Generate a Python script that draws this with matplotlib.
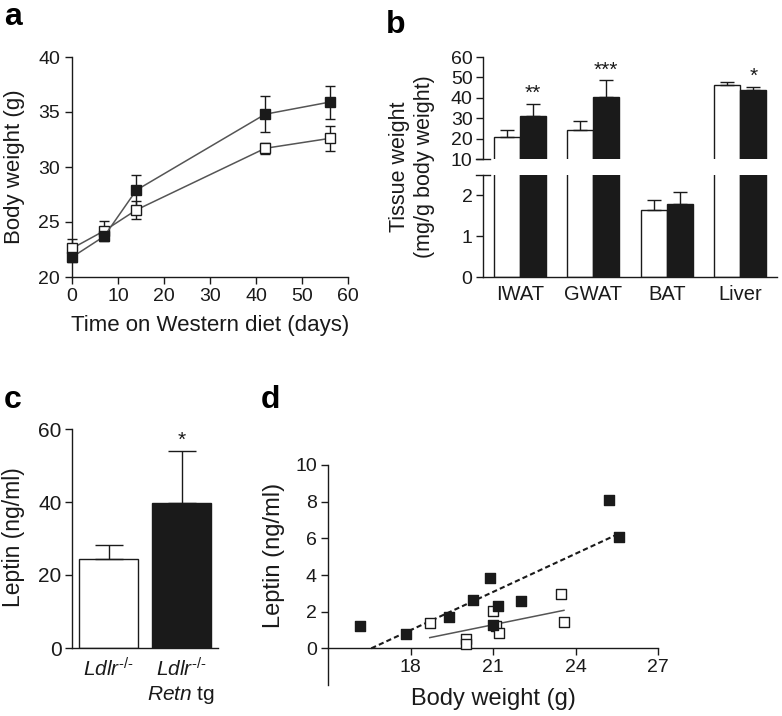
import numpy as np
import matplotlib
matplotlib.use("Agg")
import matplotlib.pyplot as plt

plt.rcParams['font.family'] = ['Liberation Sans', 'DejaVu Sans']
plt.rcParams['mathtext.fontset'] = 'custom'
plt.rcParams['mathtext.rm'] = 'Liberation Sans'
plt.rcParams['mathtext.it'] = 'Liberation Sans:italic'
plt.rcParams['axes.linewidth'] = 1.0
plt.rcParams['xtick.major.width'] = 1.0
plt.rcParams['ytick.major.width'] = 1.0

INK = '#1a1a1a'

# panel a: body weight over time
days = [0, 7, 14, 42, 56]
bw_ldlr = [22.6, 24.2, 26.1, 31.7, 32.6]
bw_ldlr_err = [0.9, 0.9, 0.85, 0.5, 1.15]
bw_retn = [21.8, 23.7, 27.9, 34.8, 35.9]
bw_retn_err = [0.4, 0.3, 1.4, 1.65, 1.5]

# panel b: tissue weights
tissues = ['IWAT', 'GWAT', 'BAT', 'Liver']
tw_ldlr = [20.6, 24.1, 1.63, 46.1]
tw_ldlr_err = [3.5, 4.7, 0.25, 1.8]
tw_retn = [31.2, 40.2, 1.80, 43.8]
tw_retn_err = [5.8, 8.4, 0.28, 1.7]
tw_stars = ['**', '***', '', '*']
tw_star_y = [39.3, 51.0, 0, 47.8]

# panel c: plasma leptin
groups_c = [r'$Ldlr^{\mathit{\text{-/-}}}$', r'$Ldlr^{\mathit{\text{-/-}}}$' + '\n' + r'$Retn$ tg']
leptin = [24.4, 39.7]
leptin_err = [3.9, 14.4]

# panel d: leptin vs body weight
bw_d_retn = [16.18, 17.82, 19.41, 20.29, 20.88, 21.19, 21.0, 22.0, 25.2, 25.59]
lep_d_retn = [1.22, 0.76, 1.69, 2.62, 3.85, 2.31, 1.27, 2.56, 8.07, 6.09]
bw_d_ldlr = [18.70, 21.0, 21.1, 21.2, 20.01, 20.01, 23.49, 23.58]
lep_d_ldlr = [1.36, 2.05, 1.22, 0.85, 0.49, 0.24, 2.96, 1.45]

W, H = 782, 716
fig = plt.figure(figsize=(W / 100, H / 100), dpi=100)


def px_axes(left, top, right, bottom):
    return fig.add_axes([left / W, 1 - bottom / H, (right - left) / W, (bottom - top) / H])


def clean(ax):
    ax.spines['top'].set_visible(False)
    ax.spines['right'].set_visible(False)
    for s in ax.spines.values():
        s.set_color(INK)
    ax.tick_params(colors=INK, labelcolor=INK, direction='out')


# ---- a ----
ax = px_axes(72, 57, 348, 277)
clean(ax)
for vals, errs, face in [(bw_ldlr, bw_ldlr_err, 'white'), (bw_retn, bw_retn_err, INK)]:
    eb = ax.errorbar(days, vals, yerr=errs, color='#555555', lw=1.1, marker='s', ms=7.5,
                     mfc=face, mec=INK, mew=1.0, ecolor=INK, elinewidth=1.0, capsize=3.8,
                     capthick=1.0, zorder=3)
    line, caps, bars = eb.lines
    for art in [line, *caps, *bars]:
        art.set_clip_on(False)
ax.set_xlim(0, 60)
ax.set_ylim(20, 40)
ax.set_xticks(range(0, 61, 10))
ax.set_yticks(range(20, 41, 5))
ax.tick_params(axis='both', labelsize=14, length=5)
ax.tick_params(axis='x', pad=3)
ax.set_ylabel('Body weight (g)', fontsize=16, color=INK)
ax.yaxis.set_label_coords(-0.17, 0.5)
ax.set_xlabel('Time on Western diet (days)', fontsize=16, color=INK)
ax.xaxis.set_label_coords(0.5, -0.173)

# ---- b ----
xb = np.arange(len(tissues))
bw = 0.355
ax_top = px_axes(483, 57, 777, 159)
ax_bot = px_axes(483, 175, 777, 277)
for a in (ax_top, ax_bot):
    clean(a)
    a.bar(xb - bw / 2, tw_ldlr, width=bw, color='white', edgecolor=INK, lw=1.0)
    a.bar(xb + bw / 2, tw_retn, width=bw, color=INK, edgecolor=INK, lw=1.0)
    a.errorbar(xb - bw / 2, tw_ldlr, yerr=[np.zeros(4), tw_ldlr_err], fmt='none',
               ecolor=INK, elinewidth=1.0, capsize=4.8, capthick=1.0)
    a.errorbar(xb + bw / 2, tw_retn, yerr=[np.zeros(4), tw_retn_err], fmt='none',
               ecolor=INK, elinewidth=1.0, capsize=4.8, capthick=1.0)
    a.set_xlim(-0.5, 3.5)
    a.tick_params(axis='y', labelsize=14, length=5, pad=2.5)
ax_top.set_ylim(10, 60)
ax_top.set_yticks(range(10, 61, 10))
ax_top.spines['bottom'].set_visible(False)
ax_top.set_xticks([])
ax_bot.set_ylim(0, 2.5)
ax_bot.set_yticks([0, 1, 2])
ax_bot.set_xticks(xb)
ax_bot.set_xticklabels(tissues, fontsize=14.5)
ax_bot.tick_params(axis='x', length=0, pad=6)
for i, st in enumerate(tw_stars):
    if st:
        ax_top.text(xb[i] + bw / 2, tw_star_y[i], st, ha='center', va='baseline', fontsize=15, color=INK)
# axis break marks
ax_top.plot([-0.025, 0.025], [0, 0], transform=ax_top.transAxes, color=INK, lw=1.0, clip_on=False)
ax_bot.plot([-0.025, 0.025], [1, 1], transform=ax_bot.transAxes, color=INK, lw=1.0, clip_on=False)
fig.text(412 / W, 1 - 167 / H, 'Tissue weight\n(mg/g body weight)', rotation=90, ha='center',
         va='center', multialignment='center', fontsize=15.5, color=INK, linespacing=1.25)

# ---- c ----
ax = px_axes(72, 429, 218, 648)
clean(ax)
xc = np.arange(len(leptin))
ax.bar(xc, leptin, width=0.8, color=['white', INK], edgecolor=INK, lw=1.0)
ax.errorbar(xc, leptin, yerr=[np.zeros(2), leptin_err], fmt='none', ecolor=INK,
            elinewidth=1.0, capsize=10, capthick=1.0)
ax.set_xlim(-0.5, 1.5)
ax.set_ylim(0, 60)
ax.set_yticks([0, 20, 40, 60])
ax.set_xticks(xc)
ax.set_xticklabels(groups_c, fontsize=15, va='top')
ax.tick_params(axis='y', labelsize=15, length=5, pad=2.5)
ax.tick_params(axis='x', length=0, pad=7)
ax.text(xc[1], 55.3, '*', ha='center', va='baseline', fontsize=15, color=INK)
ax.set_ylabel('Leptin (ng/ml)', fontsize=16.5, color=INK)
ax.yaxis.set_label_coords(-0.322, 0.507)

# ---- d ----
ax = px_axes(328, 465, 658, 685)
clean(ax)
ax.spines['bottom'].set_position(('data', 0))
ax.set_xlim(15, 27)
ax.set_ylim(-2, 10)
# regression lines
k1, b1 = np.polyfit(bw_d_retn, lep_d_retn, 1)
x1 = np.array([max(min(bw_d_retn), -b1 / k1), max(bw_d_retn)])
ax.plot(x1, k1 * x1 + b1, color=INK, lw=1.5, ls=(0, (2.5, 1.5)), zorder=2)
k2, b2 = np.polyfit(bw_d_ldlr, lep_d_ldlr, 1)
x2 = np.array([min(bw_d_ldlr), max(bw_d_ldlr)])
ax.plot(x2, k2 * x2 + b2, color='#555555', lw=1.1, zorder=2)
ax.scatter(bw_d_ldlr, lep_d_ldlr, marker='s', s=60, facecolor='white', edgecolor=INK, lw=1.0, zorder=3)
ax.scatter(bw_d_retn, lep_d_retn, marker='s', s=60, facecolor=INK, edgecolor=INK, lw=1.0, zorder=4)
ax.set_xticks([18, 21, 24, 27])
ax.set_yticks(range(0, 11, 2))
ax.tick_params(axis='both', labelsize=14, length=5)
ax.tick_params(axis='x', pad=3)
ax.tick_params(axis='y', pad=3)
ax.set_ylabel('Leptin (ng/ml)', fontsize=17, color=INK)
ax.yaxis.set_label_coords(-0.13, 0.591)
ax.set_xlabel('Body weight (g)', fontsize=17, color=INK)
ax.xaxis.set_label_coords(0.5, -0.014)

# panel letters
for lbl, x, y in [('a', 4, 25), ('b', 386, 33), ('c', 4, 408), ('d', 261, 408)]:
    fig.text(x / W, 1 - y / H, lbl, fontsize=23, fontweight='bold', ha='left', va='baseline', color='black')

fig.savefig('out.png', dpi=100)
